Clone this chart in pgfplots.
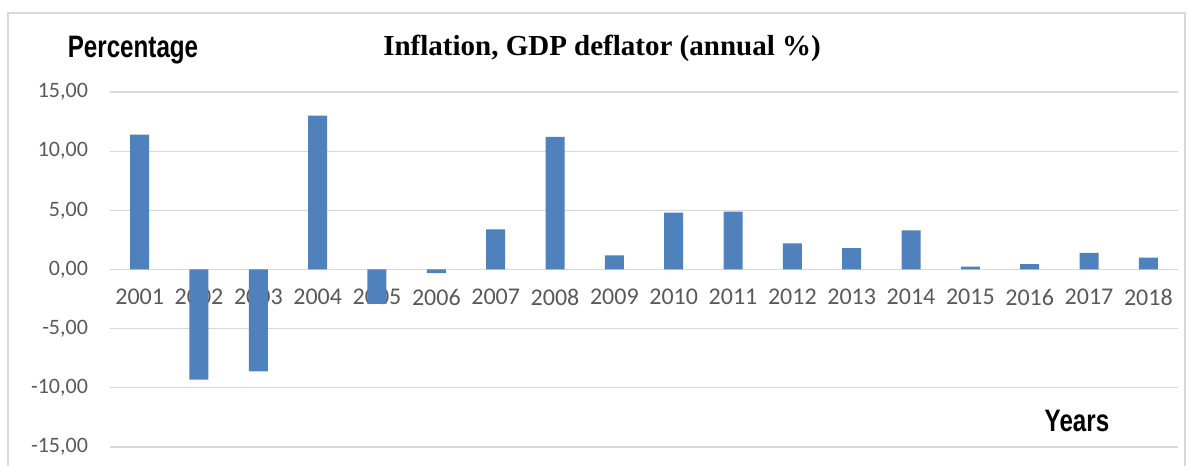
\documentclass[border=0pt]{standalone}
\usepackage{pgfplots}
\pgfplotsset{compat=1.18}
\usepackage{fontspec}
\setmainfont{Carlito}
\newfontfamily\titlefont{Liberation Serif}
\newfontfamily\narrowfont[FakeStretch=0.78]{Liberation Sans}
\definecolor{barblue}{HTML}{4F81BD}
\definecolor{gridgray}{HTML}{D9D9D9}
\definecolor{labelgray}{HTML}{595959}

\begin{document}
\begin{tikzpicture}
\useasboundingbox (0,0) rectangle (595pt,233pt);
% chart frame
\draw[gridgray, line width=1pt] (4pt,0) -- (4pt,226.5pt) -- (592.5pt,226.5pt) -- (592.5pt,0);
\begin{axis}[
  at={(55pt,9.5pt)}, anchor=south west,
  scale only axis, width=534pt, height=177.5pt,
  xmin=-0.5, xmax=17.5, ymin=-15, ymax=15,
  enlargelimits=false,
  axis x line=middle, axis y line=left,
  axis line style={draw=none, -},
  major tick length=0pt,
  ymajorgrids, grid style={gridgray, line width=0.6pt},
  ytick={-15,-10,...,15},
  yticklabels={{-15,00},{-10,00},{-5,00},{0,00},{5,00},{10,00},{15,00}},
  yticklabel style={font=\fontsize{11}{13}\selectfont, text=labelgray, xshift=-7.5pt},
  xtick={0,...,17},
  xticklabels={2001,2002,2003,2004,2005,2006,2007,2008,2009,2010,2011,2012,2013,2014,2015,2016,2017,2018},
  xticklabel style={font=\fontsize{12}{14}\selectfont, text=labelgray, anchor=center, yshift=-13.75pt},
  ybar, bar width=9.5pt,
  clip=false,
]
\addplot[fill=barblue, draw=none, bar shift=0pt] coordinates {
  (0,11.4) (1,-9.3) (2,-8.6) (3,13.0) (4,-2.9) (5,-0.3) (6,3.4) (7,11.2) (8,1.2)
  (9,4.8) (10,4.9) (11,2.2) (12,1.8) (13,3.3) (14,0.25) (15,0.45) (16,1.4) (17,1.0)
};
\end{axis}
\node[font=\titlefont\bfseries\fontsize{14.5}{17}\selectfont] at (301pt,209pt) {Inflation, GDP deflator (annual \%)};
\node[font=\narrowfont\bfseries\fontsize{15.5}{18}\selectfont] at (66.5pt,208pt) {Percentage};
\node[font=\narrowfont\bfseries\fontsize{15.5}{18}\selectfont] at (538.5pt,22.5pt) {Years};
\end{tikzpicture}
\end{document}
